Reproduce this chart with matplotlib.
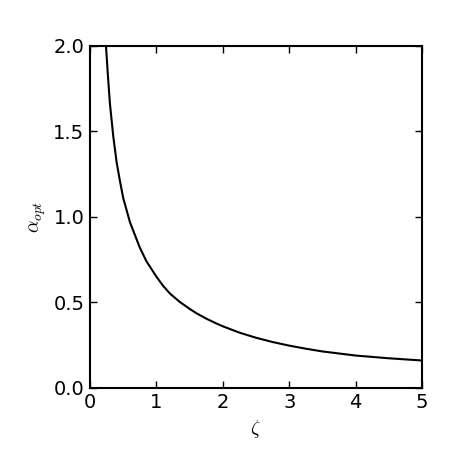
import numpy as np
import matplotlib
matplotlib.use("Agg")
import matplotlib.pyplot as plt

# values
zeta = [0.22, 0.24, 0.27, 0.30, 0.35, 0.40, 0.45, 0.50, 0.55, 0.60, 0.65, 0.70,
        0.75, 0.80, 0.85, 0.90, 0.95, 1.0, 1.1, 1.2, 1.25, 1.35, 1.5, 1.6, 1.75,
        1.9, 2.0, 2.25, 2.5, 2.75, 3.0, 3.25, 3.5, 4.0, 4.5, 5.0]
alpha_opt = [2.15, 2.0, 1.82, 1.66, 1.47, 1.32, 1.21, 1.11, 1.04, 0.97, 0.92, 0.87,
             0.82, 0.78, 0.74, 0.71, 0.68, 0.65, 0.597, 0.553, 0.536, 0.503, 0.462, 0.437, 0.405,
             0.377, 0.36, 0.323, 0.293, 0.268, 0.247, 0.229, 0.213, 0.189, 0.173, 0.16]

x_ticks = [0, 1, 2, 3, 4, 5]
y_ticks = [0.0, 0.5, 1.0, 1.5, 2.0]

plt.rcParams.update({
    "mathtext.fontset": "cm",
    "font.family": "DejaVu Sans",
    "xtick.direction": "in",
    "ytick.direction": "in",
    "xtick.top": True,
    "ytick.right": True,
})

fig = plt.figure(figsize=(4.69, 4.69), dpi=100)
ax = fig.add_axes([0.192, 0.173, 0.708, 0.729])

ax.plot(zeta, alpha_opt, color="black", linewidth=1.5)

ax.set_xlim(0, 5)
ax.set_ylim(0, 2)
ax.set_xticks(x_ticks)
ax.set_yticks(y_ticks)
ax.set_xticklabels([str(t) for t in x_ticks])
ax.set_yticklabels(["%.1f" % t for t in y_ticks])
ax.tick_params(labelsize=14, length=5, width=1, pad=4)
for sp in ax.spines.values():
    sp.set_linewidth(1.5)

ax.set_xlabel(r"$\zeta$", fontsize=14)
ax.set_ylabel(r"$\alpha_{opt}$", fontsize=14)

fig.savefig("out.png", dpi=100)
